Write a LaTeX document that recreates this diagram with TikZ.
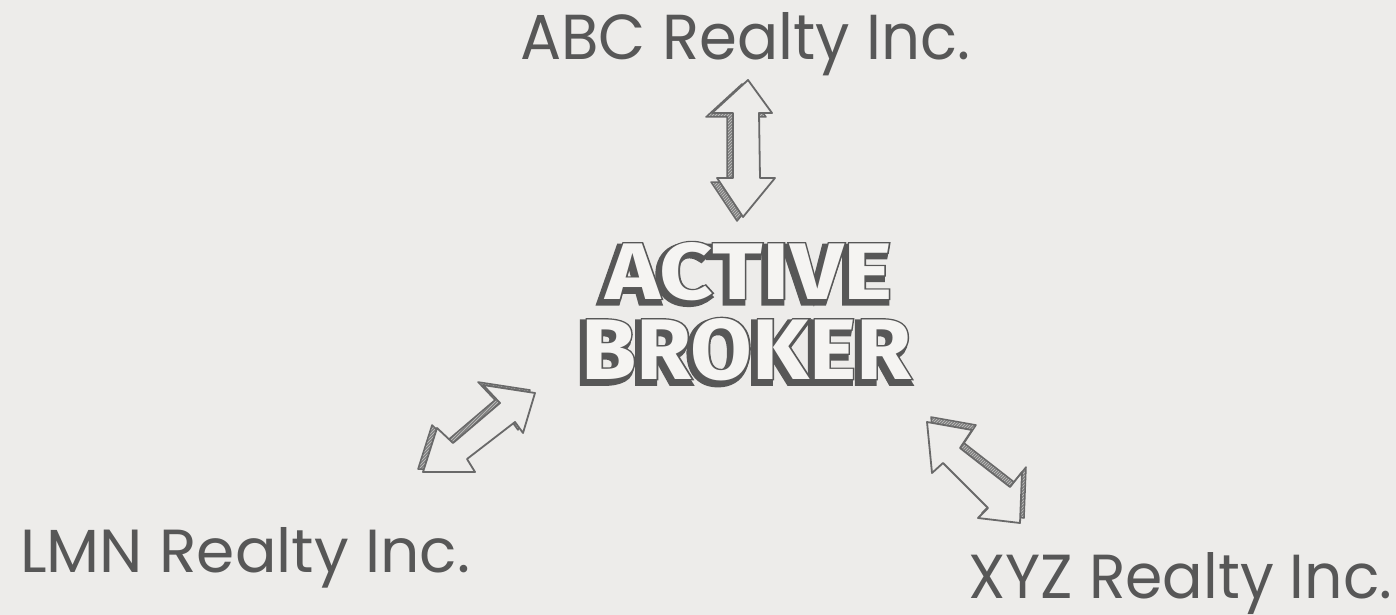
\documentclass[tikz,border=0pt]{standalone}
\usepackage{fontspec}
\usepackage{graphicx}
\setmainfont{Poppins}
\newfontfamily\headfont{Fira Sans}
\newfontfamily\headrim{Fira Sans}[FakeBold=3]
\newfontfamily\headshade{Fira Sans}[FakeBold=8]
\usetikzlibrary{patterns}

\definecolor{paper}{HTML}{EDECEA}
\definecolor{ink}{HTML}{575757}
\definecolor{pen}{HTML}{696969}
\definecolor{face}{HTML}{F5F4F2}

% outlined block lettering with a solid drop shadow towards the lower left
\newcommand{\blockword}[6]{%
  \node[bigword, text=ink, xshift=-3.5pt, yshift=-3.5pt] at (#2,#3) {\resizebox{#4pt}{#5pt}{\headshade\bfseries #6}};
  \node[bigword, text=ink] at (#2,#3) {\resizebox{#4pt}{#5pt}{\headrim\bfseries #6}};
  \node[bigword, text=face] (#1) at (#2,#3) {\resizebox{#4pt}{#5pt}{\headfont\bfseries #6}};
}

% hollow double arrow with a hatched extruded side
\newcommand{\sketcharrow}[2]{%
  \draw[depthside, shift={#1}] #2 -- cycle;
  \draw[frontside] #2 -- cycle;
}

\tikzset{
  bigword/.style={anchor=base west, inner sep=0pt},
  company/.style={anchor=base west, inner sep=0pt, text=ink},
  depthside/.style={draw=pen, line width=1.5pt, line join=round,
    preaction={fill=pen!85}, pattern=north east lines, pattern color=paper!70!pen},
  frontside/.style={draw=pen, line width=1.8pt, line join=round, fill=paper},
}

\begin{document}
\begin{tikzpicture}[x=1pt, y=-1pt]
  \fill[paper] (0,0) rectangle (1396,615);
  \path[use as bounding box] (0,0) rectangle (1396,615);

  % company names
  \node[company] (abc) at (520,60)  {\resizebox{450pt}{47pt}{ABC Realty Inc.}};
  \node[company] (lmn) at (20,572)  {\resizebox{450pt}{45pt}{LMN Realty Inc.}};
  \node[company] (xyz) at (968,598) {\resizebox{424pt}{46pt}{XYZ Realty Inc.}};

  % central title
  \blockword{active}{605}{299}{287}{57}{ACTIVE}
  \blockword{broker}{581}{379}{330}{61}{BROKER}

  % arrow between the title and ABC
  \sketcharrow{(-6,4)}{(748,80) -- (772,113) -- (759,113) -- (760,178) -- (775,178)
    -- (743,217) -- (717,178) -- (733,178) -- (733,113) -- (712,113)}

  % arrow between the title and LMN
  \sketcharrow{(-5,-3)}{(535,393) -- (523,433) -- (515,422) -- (467,459) -- (475,472)
    -- (423,472) -- (437,428) -- (453,443) -- (500,403) -- (483,385)}

  % arrow between the title and XYZ
  \sketcharrow{(4,-5)}{(927,422) -- (972,430) -- (960,448) -- (1010,487) -- (1022,472)
    -- (1020,523) -- (978,518) -- (988,508) -- (943,463) -- (932,473)}
\end{tikzpicture}
\end{document}
